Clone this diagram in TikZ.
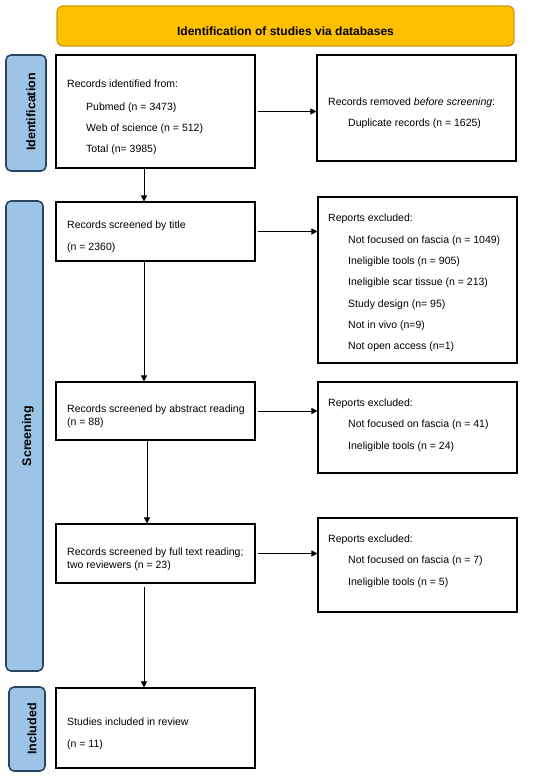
\documentclass[tikz,border=0pt]{standalone}
\usepackage{fontspec}
\setmainfont{Liberation Sans}
\usetikzlibrary{arrows.meta}
\definecolor{hdrfill}{HTML}{FFC000}
\definecolor{hdrdraw}{HTML}{C99A12}
\definecolor{sidefill}{HTML}{9DC3E6}
\definecolor{sidedraw}{HTML}{2A4560}
\begin{document}
\begin{tikzpicture}[x=1pt,y=-1pt,
  box/.style={draw=black, line width=1.1pt, fill=white},
  side/.style={draw=sidedraw, fill=sidefill, line width=1.6pt, rounded corners=5pt},
  hdr/.style={draw=hdrdraw, fill=hdrfill, line width=1.2pt, rounded corners=6pt},
  txt/.style={anchor=base west, inner sep=0pt, font=\fontsize{10.5}{12}\selectfont},
  sidetxt/.style={rotate=90, inner sep=0pt, font=\fontsize{12.5}{14}\selectfont\bfseries},
  arr/.style={-{Triangle[length=6pt,width=6pt]}, line width=0.6pt}]
\useasboundingbox (0,0) rectangle (550,778);
\fill[white] (0,0) rectangle (550,778);
% header
\draw[hdr] (57,6) rectangle (514,46);
\node[anchor=base, inner sep=0pt, font=\fontsize{12}{14}\selectfont\bfseries] (hdrt) at (285.5,35.3) {Identification of studies via databases};
% side bars
\draw[side] (6,55) rectangle (46,171);
\node[sidetxt] (sid) at (31,112) {Identification};
\draw[side] (6,201) rectangle (43,671);
\node[sidetxt] (sscr) at (28,436) {Screening};
\draw[side] (9,687) rectangle (45,771);
\node[sidetxt] (sinc) at (32,729) {Included};
% boxes
\node[box, minimum width=199pt, minimum height=113pt, inner sep=0pt] (b1) at (155.5,111.5) {};
\node[box, minimum width=199pt, minimum height=106pt, inner sep=0pt] (rem) at (416.5,108) {};
\node[box, minimum width=199pt, minimum height=59pt, inner sep=0pt] (b2) at (155.5,231.5) {};
\node[box, minimum width=199pt, minimum height=166pt, inner sep=0pt] (ex1) at (417.5,280) {};
\node[box, minimum width=199pt, minimum height=58pt, inner sep=0pt] (b3) at (155.5,411) {};
\node[box, minimum width=199pt, minimum height=91pt, inner sep=0pt] (ex2) at (417.5,427.5) {};
\node[box, minimum width=199pt, minimum height=59pt, inner sep=0pt] (b4) at (155.5,553.5) {};
\node[box, minimum width=199pt, minimum height=94pt, inner sep=0pt] (ex3) at (417.5,565) {};
\node[box, minimum width=199pt, minimum height=80pt, inner sep=0pt] (b5) at (155.5,728) {};
% texts
\node[txt] (t11) at (67,87.7) {Records identified from:};
\node[txt] (t12) at (86,110.7) {Pubmed (n = 3473)};
\node[txt] (t13) at (86,131.7) {Web of science (n = 512)};
\node[txt] (t14) at (86,152.7) {Total (n= 3985)};
\node[txt] (tr1) at (328,105.7) {Records removed \textit{before screening}:};
\node[txt] (tr2) at (348,126.7) {Duplicate records (n = 1625)};
\node[txt] (t21) at (67,228.7) {Records screened by title};
\node[txt] (t22) at (67,250.7) {(n = 2360)};
\node[txt] (te11) at (328,221.7) {Reports excluded:};
\node[txt] (te12) at (348,243) {Not focused on fascia (n = 1049)};
\node[txt] (te13) at (348,264.4) {Ineligible tools (n = 905)};
\node[txt] (te14) at (348,285.7) {Ineligible scar tissue (n = 213)};
\node[txt] (te15) at (348,307) {Study design (n= 95)};
\node[txt] (te16) at (348,328.4) {Not in vivo (n=9)};
\node[txt] (te17) at (348,349.7) {Not open access (n=1)};
\node[txt] (t31) at (67,412) {Records screened by abstract reading};
\node[txt] (t32) at (67,425.4) {(n = 88)};
\node[txt] (te21) at (328,406) {Reports excluded:};
\node[txt] (te22) at (348,427.7) {Not focused on fascia (n = 41)};
\node[txt] (te23) at (348,449.4) {Ineligible tools (n = 24)};
\node[txt] (t41) at (67,555.7) {Records screened by full text reading;};
\node[txt] (t42) at (67,568.4) {two reviewers (n = 23)};
\node[txt] (te31) at (328,542.7) {Reports excluded:};
\node[txt] (te32) at (348,563.7) {Not focused on fascia (n = 7)};
\node[txt] (te33) at (348,585.4) {Ineligible tools (n = 5)};
\node[txt] (t51) at (67,725.4) {Studies included in review};
\node[txt] (t52) at (67,747) {(n = 11)};
% connectors
\coordinate (ax1) at (144,0);
\coordinate (ax2) at (147,0);
\draw[arr, shorten <=2pt] (b1.east) -- (b1.east -| rem.west);
\draw[arr, shorten <=2pt] (b2.east) -- (b2.east -| ex1.west);
\draw[arr, shorten <=2pt] (b3.east) -- (b3.east -| ex2.west);
\draw[arr, shorten <=2pt] (b4.east) -- (b4.east -| ex3.west);
\draw[arr] (b1.south -| ax1) -- (b2.north -| ax1);
\draw[arr] (b2.south -| ax1) -- (b3.north -| ax1);
\draw[arr] (b3.south -| ax2) -- (b4.north -| ax2);
\draw[arr, shorten <=3pt] (b4.south -| ax1) -- (b5.north -| ax1);
\end{tikzpicture}
\end{document}
